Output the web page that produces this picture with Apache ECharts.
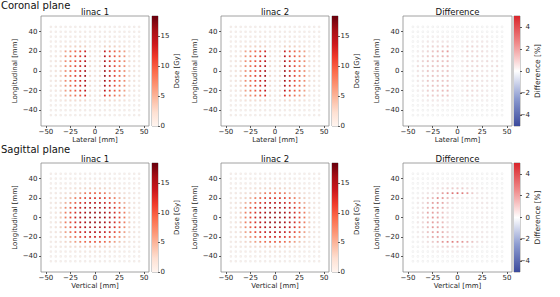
<!DOCTYPE html>
<html><head><meta charset="utf-8">
<script src="https://cdn.jsdelivr.net/npm/echarts@6/dist/echarts.min.js"></script>
<style>html,body{margin:0;padding:0;background:#fff}#c{width:560px;height:297px}</style>
</head><body><div id="c"></div>
<script>
// grid coordinates (mm)
const xCoords = [-45,-40,-35,-30,-25,-20,-15,-10,-5,0,5,10,15,20,25,30,35,40,45];
const yCoords = [45,40,35,30,25,20,15,10,5,0,-5,-10,-15,-20,-25,-30,-35,-40,-45];
const xTicks = [-50,-25,0,25,50];
const yTicks = [-40,-20,0,20,40];
const doseTicks = [0,5,10,15];
const diffTicks = [-4,-2,0,2,4];
const planeLabels = ['Coronal plane','Sagittal plane'];
const panelTitles = ['linac 1','linac 2','Difference'];
const xNames = ['Lateral [mm]','Vertical [mm]'];
const yName = 'Longitudinal [mm]';
const cbNames = ['Dose [Gy]','Difference [%]'];

const Z = [0,0,0,0,0,0,0,0,0,0,0,0,0,0,0,0,0,0,0];
// Coronal plane, linac 1 dose [Gy]
const coronalLinac1 = [
 Z,
 [0,0,0,0.2,0.2,0.2,0.2,0.2,0.1,0,0.1,0.2,0.2,0.2,0.2,0.2,0,0,0],
 [0,0,0.2,0.4,0.4,0.5,0.5,0.4,0.2,0.1,0.2,0.4,0.5,0.5,0.4,0.4,0.2,0,0],
 [0,0.2,0.4,0.8,1,1.2,1.2,1,0.4,0.2,0.4,1,1.2,1.2,1,0.8,0.4,0.2,0],
 [0,0.3,0.8,2,2.5,3,3.2,3,0.8,0.4,0.8,3,3.2,3,2.5,2,0.8,0.3,0],
 [0,0.5,1.5,6,8,9.5,11,13,1.5,0.6,1.5,13.5,11,9.5,8,6,1.5,0.5,0],
 [0.2,0.8,2,6.5,8.5,10,12,14,1.8,0.7,1.8,14.5,12,10,8.5,6.5,2,0.8,0.2],
 [0.2,1,2.5,7,9,10.5,12.5,14.5,2,0.8,2,15,12.5,10.5,9,7,2.5,1,0.2],
 [0.2,1,2.5,7,9,11,13,15,2,0.8,2,15.5,13,11,9,7,2.5,1,0.2],
 [0.2,1.2,2.8,7,9.5,11,13,15.5,2.2,0.9,2.2,16,13,11,9.5,7,2.8,1.2,0.2],
 [0.2,1.2,2.8,7.5,9.5,11.5,13.5,16,2.2,0.9,2.2,16.5,13.5,11.5,9.5,7.5,2.8,1.2,0.2],
 [0.2,1,2.5,7,9,11,13,15,2,0.8,2,15.5,13,11,9,7,2.5,1,0.2],
 [0.2,1,2.5,6.5,9,10.5,12.5,14.5,2,0.8,2,15,12.5,10.5,9,6.5,2.5,1,0.2],
 [0.2,0.8,2,6,8.5,10,12,14,1.8,0.7,1.8,14,12,10,8.5,6,2,0.8,0.2],
 [0,0.5,1.5,5,7,8.5,10,12,1.5,0.6,1.5,12,10,8.5,7,5,1.5,0.5,0],
 [0,0.3,0.6,1.5,2,2.2,2.5,2.5,0.6,0.3,0.6,2.5,2.5,2.2,2,1.5,0.6,0.3,0],
 [0,0,0.2,0.4,0.5,0.5,0.6,0.6,0.2,0.1,0.2,0.6,0.6,0.5,0.5,0.4,0.2,0,0],
 [0,0,0,0.2,0.2,0.2,0.2,0.2,0.1,0,0.1,0.2,0.2,0.2,0.2,0.2,0,0,0],
 Z
];
// Coronal plane, linac 2 dose [Gy]
const coronalLinac2 = [
 Z,
 [0,0,0,0.2,0.2,0.2,0.2,0.2,0.1,0,0.1,0.2,0.2,0.2,0.2,0.2,0,0,0],
 [0,0,0.2,0.4,0.4,0.5,0.5,0.4,0.2,0.1,0.2,0.4,0.5,0.5,0.4,0.4,0.2,0,0],
 [0,0.2,0.4,0.8,1,1.2,1.2,1,0.4,0.2,0.4,1,1.2,1.2,1,0.8,0.4,0.2,0],
 [0,0.3,0.8,2,2.5,3,3.1,2.9,0.8,0.4,0.8,3,3.2,3,2.5,2,0.8,0.3,0],
 [0,0.5,1.5,5.8,7.8,9.3,10.8,12.7,1.5,0.6,1.5,13.2,10.8,9.3,7.8,5.9,1.5,0.5,0],
 [0.2,0.8,2,6.4,8.3,9.8,11.8,13.8,1.8,0.7,1.8,14.3,11.9,9.9,8.4,6.4,2,0.8,0.2],
 [0.2,1,2.5,6.9,8.9,10.3,12.3,14.3,2,0.8,2,14.8,12.4,10.4,8.9,6.9,2.5,1,0.2],
 [0.2,1,2.5,6.9,8.9,10.9,12.8,14.8,2,0.8,2,15.4,12.9,10.9,8.9,6.9,2.5,1,0.2],
 [0.2,1.2,2.8,6.9,9.4,10.9,12.9,15.3,2.2,0.9,2.2,15.9,12.9,10.9,9.4,7,2.8,1.2,0.2],
 [0.2,1.2,2.8,7.4,9.4,11.4,13.3,15.8,2.2,0.9,2.2,16.4,13.4,11.4,9.4,7.4,2.8,1.2,0.2],
 [0.2,1,2.5,6.9,8.9,10.9,12.8,14.8,2,0.8,2,15.4,12.9,10.9,8.9,7,2.5,1,0.2],
 [0.2,1,2.5,6.4,8.9,10.4,12.3,14.3,2,0.8,2,14.9,12.4,10.4,8.9,6.5,2.5,1,0.2],
 [0.2,0.8,2,5.9,8.4,9.9,11.8,13.8,1.8,0.7,1.8,13.9,11.9,9.9,8.4,6,2,0.8,0.2],
 [0,0.5,1.5,4.9,6.9,8.4,9.9,11.8,1.5,0.6,1.5,11.9,9.9,8.4,6.9,5,1.5,0.5,0],
 [0,0.3,0.6,1.5,2,2.2,2.5,2.5,0.6,0.3,0.6,2.5,2.5,2.2,2,1.5,0.6,0.3,0],
 [0,0,0.2,0.4,0.5,0.5,0.6,0.6,0.2,0.1,0.2,0.6,0.6,0.5,0.5,0.4,0.2,0,0],
 [0,0,0,0.2,0.2,0.2,0.2,0.2,0.1,0,0.1,0.2,0.2,0.2,0.2,0.2,0,0,0],
 Z
];
// Coronal plane, difference [%]
const coronalDiff = [
 Z,
 Z,
 [0,0,0,0.2,0.2,0.2,0.2,0.2,0,0,0,0.2,0.2,0.2,0.2,0.2,0,0,0],
 [0,0,0.2,0.4,0.5,0.5,0.5,0.5,0.2,0,0.2,0.4,0.4,0.4,0.4,0.3,0.2,0,0],
 [0,0,0.3,0.6,0.8,0.8,1,1.2,0.3,0,0.3,0.8,0.8,0.6,0.5,0.4,0.2,0,0],
 [0,0.2,0.5,0.8,1.2,1.5,1.8,2.2,0.4,0,0.4,1,0.8,0.6,0.6,0.4,0.3,0.2,0],
 [0,0.2,0.6,1,1.4,1.2,1.5,1.6,0.4,0,0.4,0.8,0.6,0.8,0.5,0.4,0.4,0.2,0],
 [0,0.4,0.8,1.2,1,1.4,1.2,1.4,0.4,0,0.4,0.6,0.8,0.6,0.4,0.6,0.4,0.4,0],
 [0,0.6,0.8,1,1.2,1,1.4,1.2,0.3,0,0.3,0.8,0.6,0.8,0.6,0.4,0.5,0.6,0],
 [0,0.5,0.6,1.2,1,1.2,1,1.3,0.3,0,0.3,0.6,0.8,0.6,0.4,0.4,0.4,0.5,0],
 [0,0.4,0.6,1,1.2,1,1.2,1.1,0.3,0,0.3,0.7,0.6,0.7,0.5,0.4,0.4,0.4,0],
 [0,0.3,0.5,1.1,1,1.3,1.1,1.2,0.3,0,0.3,0.6,0.7,0.6,0.4,0.4,0.3,0.3,0],
 [0,0.2,0.5,1,1.2,1.1,1.3,1.4,0.3,0,0.3,0.7,0.6,0.6,0.5,0.3,0.3,0.2,0],
 [0,0.2,0.4,0.9,1.1,1.2,1.4,1.5,0.3,0,0.3,0.8,0.7,0.6,0.4,0.3,0.2,0.2,0],
 [0,0,0.3,0.8,1,1,1.2,1.2,0.3,0,0.3,0.6,0.6,0.4,0.4,0.3,0.2,0,0],
 [0,0,0.2,0.3,0.4,0.4,0.4,0.4,0.1,0,0.1,0.3,0.3,0.3,0.2,0.2,0,0,0],
 [0,0,0,0.1,0.2,0.2,0.2,0.2,0,0,0,0.1,0.1,0.1,0.1,0.1,0,0,0],
 Z,
 Z
];
// Sagittal plane, linac 1 dose [Gy]
const sagittalLinac1 = [
 Z,
 [0,0,0,0.1,0.2,0.2,0.3,0.3,0.3,0.3,0.3,0.3,0.3,0.2,0.2,0.1,0,0,0],
 [0,0,0.1,0.3,0.4,0.5,0.6,0.7,0.8,0.8,0.8,0.7,0.6,0.5,0.4,0.3,0.1,0,0],
 [0,0.2,0.4,0.8,1,1.5,2,2.5,3,3,3,2.5,2,1.5,1,0.8,0.4,0.2,0],
 [0,0.3,0.8,1.5,2.5,3.5,5,8,9,9.5,9,8,5,3.5,2.5,1.5,0.8,0.3,0],
 [0.1,0.5,1.5,3,5,8,10,11,12,12,12,11,10,8,5,3,1.5,0.5,0.1],
 [0.2,0.8,2,5,8,10,12,13,14,14,14,13,12,10,8,5,2,0.8,0.2],
 [0.2,1,3,7,10,12,13.5,14.5,15,15.5,15,14.5,13.5,12,10,7,3,1,0.2],
 [0.2,1,3.5,8,10.5,12.5,14,15,16,16,16,15,14,12.5,10.5,8,3.5,1,0.2],
 [0.2,1,3.5,8,11,13,14.5,15.5,16,16.5,16,15.5,14.5,13,11,8,3.5,1,0.2],
 [0.2,1,3.5,8,10.5,12.5,14,15,16,16,16,15,14,12.5,10.5,8,3.5,1,0.2],
 [0.2,1,3,7,10,12,13.5,14.5,15,15.5,15,14.5,13.5,12,10,7,3,1,0.2],
 [0.2,0.8,2.5,6,9,11,12.5,13.5,14,14.5,14,13.5,12.5,11,9,6,2.5,0.8,0.2],
 [0.1,0.6,2,4.5,7,9,11,12,12.5,13,12.5,12,11,9,7,4.5,2,0.6,0.1],
 [0,0.4,1,2.5,4,6,8,9,10,10,10,9,8,6,4,2.5,1,0.4,0],
 [0,0.2,0.5,1,1.5,2,2.5,3,3.5,3.5,3.5,3,2.5,2,1.5,1,0.5,0.2,0],
 [0,0,0.1,0.3,0.4,0.5,0.6,0.7,0.8,0.8,0.8,0.7,0.6,0.5,0.4,0.3,0.1,0,0],
 [0,0,0,0.1,0.2,0.2,0.3,0.3,0.3,0.3,0.3,0.3,0.3,0.2,0.2,0.1,0,0,0],
 Z
];
// Sagittal plane, linac 2 dose [Gy]
const sagittalLinac2 = [
 Z,
 [0,0,0,0.1,0.2,0.2,0.3,0.3,0.3,0.3,0.3,0.3,0.3,0.2,0.2,0.1,0,0,0],
 [0,0,0.1,0.3,0.4,0.5,0.6,0.7,0.8,0.8,0.8,0.7,0.6,0.5,0.4,0.3,0.1,0,0],
 [0,0.2,0.4,0.8,1,1.5,2,2.4,2.9,2.9,2.9,2.4,2,1.5,1,0.8,0.4,0.2,0],
 [0,0.3,0.8,1.5,2.4,3.4,4.9,7.8,8.7,9.2,8.8,7.8,5,3.5,2.5,1.5,0.8,0.3,0],
 [0.1,0.5,1.5,2.9,4.9,7.8,9.8,10.9,11.9,11.9,11.9,11,10,8,5,3,1.5,0.5,0.1],
 [0.2,0.8,2,4.9,7.8,9.8,11.8,12.9,13.9,13.9,14,13,12,10,8,5,2,0.8,0.2],
 [0.2,1,2.9,6.9,9.8,11.8,13.3,14.4,14.9,15.4,15,14.5,13.5,12,10,7,3,1,0.2],
 [0.2,1,3.4,7.8,10.3,12.3,13.8,14.9,15.9,15.9,16,15,14,12.5,10.5,8,3.5,1,0.2],
 [0.2,1,3.4,7.9,10.8,12.8,14.3,15.4,15.9,16.4,16,15.5,14.5,13,11,8,3.5,1,0.2],
 [0.2,1,3.4,7.8,10.3,12.3,13.8,14.9,15.9,15.9,16,15,14,12.5,10.5,8,3.5,1,0.2],
 [0.2,1,2.9,6.9,9.8,11.8,13.3,14.4,14.9,15.4,15,14.5,13.5,12,10,7,3,1,0.2],
 [0.2,0.8,2.4,5.9,8.8,10.8,12.3,13.4,13.9,14.4,14,13.5,12.5,11,9,6,2.5,0.8,0.2],
 [0.1,0.6,2,4.4,6.9,8.8,10.8,11.8,12.3,12.8,12.4,11.9,11,9,7,4.5,2,0.6,0.1],
 [0,0.4,1,2.4,3.9,5.9,7.8,8.8,9.7,9.8,9.8,8.8,7.9,6,4,2.5,1,0.4,0],
 [0,0.2,0.5,1,1.5,2,2.4,2.9,3.4,3.4,3.4,2.9,2.5,2,1.5,1,0.5,0.2,0],
 [0,0,0.1,0.3,0.4,0.5,0.6,0.7,0.8,0.8,0.8,0.7,0.6,0.5,0.4,0.3,0.1,0,0],
 [0,0,0,0.1,0.2,0.2,0.3,0.3,0.3,0.3,0.3,0.3,0.3,0.2,0.2,0.1,0,0,0],
 Z
];
// Sagittal plane, difference [%]
const sagittalDiff = [
 Z,
 Z,
 [0,0,0,0,0.1,0.2,0.2,0.3,0.3,0.3,0.3,0.2,0.2,0.1,0,0,0,0,0],
 [0,0,0,0.2,0.2,0.4,0.6,0.8,1,1,1,0.6,0.4,0.2,0.2,0,0,0,0],
 [0,0,0.2,0.4,0.6,1,2,2.5,3,3.2,2.8,2.2,1,0.4,0.2,0.2,0,0,0],
 [0,0.2,0.4,1,1.5,2.5,2.2,1.5,1,0.5,0.3,0.2,0.2,0.4,0.3,0.2,0.2,0,0],
 [0,0.2,0.5,1.2,2,2.2,1.8,1,0.5,0.2,0.1,0,0.2,0.3,0.4,0.3,0.2,0,0],
 [0,0.2,0.6,1.5,2.2,2,1.5,0.8,0.4,0.2,0,0.1,0.2,0.3,0.2,0.3,0.2,0,0],
 [0,0.3,0.8,1.8,2,1.8,1.2,0.6,0.3,0.1,0,0.1,0.2,0.2,0.3,0.2,0.2,0,0],
 [0,0.3,0.8,1.6,2.2,2,1.3,0.7,0.3,0,0,0,0.1,0.2,0.2,0.2,0.2,0,0],
 [0,0.3,0.7,1.5,2,1.8,1.4,0.6,0.3,0.1,0,0.1,0.2,0.3,0.2,0.2,0.2,0,0],
 [0,0.2,0.6,1.4,2.1,2,1.5,0.8,0.4,0.2,0.1,0.1,0.2,0.2,0.3,0.2,0.2,0,0],
 [0,0.2,0.5,1.2,1.9,2.2,1.6,1,0.5,0.3,0.2,0.2,0.2,0.3,0.3,0.2,0.2,0,0],
 [0,0.2,0.4,1,1.8,2,1.6,1.2,0.8,0.4,0.4,0.3,0.3,0.3,0.3,0.2,0.2,0,0],
 [0,0,0.2,0.5,1,1.5,2.2,2.5,2.8,2.5,2.2,1.8,1.2,0.6,0.4,0.2,0,0,0],
 [0,0,0,0.2,0.3,0.5,0.8,1,1,1,0.8,0.6,0.4,0.2,0,0,0,0,0],
 [0,0,0,0,0.1,0.2,0.2,0.3,0.3,0.3,0.2,0.2,0.1,0,0,0,0,0,0],
 Z,
 Z
];
const doseRange = [0, 18.4];
const diffRange = [-5, 5];

const FONT = 'DejaVu Sans';
const TXT = '#262626';
const redsStops = ['#fff5f0','#fee0d2','#fcbba1','#fc9272','#fb6a4a','#ef3b2c','#cb181d','#a50f15','#67000d'];
const diffStops = ['#3b4a9c','#8c9bd0','#ffffff','#f08c8c','#d9252b'];
const fmt = v => String(v).replace('-', '\u2212');

const panels = [
 {m: coronalLinac1, t: panelTitles[0], xn: xNames[0], dose: true,  l: 41,  tp: 16,  w: 108, h: 110, cb: 152},
 {m: coronalLinac2, t: panelTitles[1], xn: xNames[0], dose: true,  l: 221, tp: 16,  w: 108, h: 110, cb: 332},
 {m: coronalDiff,   t: panelTitles[2], xn: xNames[0], dose: false, l: 403, tp: 16,  w: 109, h: 110, cb: 514},
 {m: sagittalLinac1,t: panelTitles[0], xn: xNames[1], dose: true,  l: 41,  tp: 163, w: 108, h: 109, cb: 152},
 {m: sagittalLinac2,t: panelTitles[1], xn: xNames[1], dose: true,  l: 221, tp: 163, w: 108, h: 109, cb: 332},
 {m: sagittalDiff,  t: panelTitles[2], xn: xNames[1], dose: false, l: 403, tp: 163, w: 109, h: 109, cb: 514}
];

const grid = [], xAxis = [], yAxis = [], series = [], visualMap = [];
const title = [
 {text: planeLabels[0], left: 1, top: 0, padding: 0, textStyle: {fontFamily: FONT, fontSize: 10, fontWeight: 'normal', color: '#111'}},
 {text: planeLabels[1], left: 1, top: 144, padding: 0, textStyle: {fontFamily: FONT, fontSize: 10, fontWeight: 'normal', color: '#111'}}
];
const lbl = {fontFamily: FONT, fontSize: 7, color: TXT};

panels.forEach(p => {
  const g = grid.length;
  grid.push({left: p.l, top: p.tp, width: p.w, height: p.h, show: true, borderColor: '#8a8a8a', borderWidth: 0.8, containLabel: false});
  grid.push({left: p.cb, top: p.tp, width: 6, height: p.h, show: true, borderColor: '#8a8a8a', borderWidth: 0.8, containLabel: false});
  const xi = xAxis.length;
  xAxis.push({type: 'value', gridIndex: g, min: -55, max: 55,
    axisLine: {show: false, onZero: false}, splitLine: {show: false},
    axisTick: {show: true, length: 2, customValues: xTicks, lineStyle: {color: '#333', width: 0.8}},
    axisLabel: Object.assign({customValues: xTicks, margin: 2.5, formatter: fmt}, lbl),
    name: p.xn, nameLocation: 'middle', nameGap: 8, nameTextStyle: lbl});
  xAxis.push({type: 'category', gridIndex: g + 1, data: ['c'], show: false});
  const yi = yAxis.length;
  yAxis.push({type: 'value', gridIndex: g, min: -56, max: 56,
    axisLine: {show: false, onZero: false}, splitLine: {show: false},
    axisTick: {show: true, length: 2, customValues: yTicks, lineStyle: {color: '#333', width: 0.8}},
    axisLabel: Object.assign({customValues: yTicks, margin: 3.5, formatter: fmt}, lbl),
    name: yName, nameLocation: 'middle', nameGap: 19, nameRotate: 90, nameTextStyle: lbl});
  const cbT = p.dose ? doseTicks : diffTicks;
  const rng = p.dose ? doseRange : diffRange;
  yAxis.push({type: 'value', gridIndex: g + 1, position: 'right', min: rng[0], max: rng[1],
    axisLine: {show: false, onZero: false}, splitLine: {show: false},
    axisTick: {show: true, length: 2, customValues: cbT, lineStyle: {color: '#333', width: 0.8}},
    axisLabel: Object.assign({customValues: cbT, margin: p.dose ? 2.5 : 10, align: p.dose ? 'left' : 'right', formatter: fmt}, lbl),
    name: p.dose ? cbNames[0] : cbNames[1], nameLocation: 'middle', nameGap: 13, nameRotate: 90,
    nameTextStyle: Object.assign({}, lbl, {fontSize: p.dose ? 7 : 7.5})});
  yAxis.push({type: 'value', gridIndex: g + 1, min: 0, max: 1, show: false});
  const stops = p.dose ? redsStops : diffStops;
  const data = [];
  p.m.forEach((row, r) => row.forEach((v, c) => data.push([xCoords[c], yCoords[r], v])));
  const si = series.length;
  series.push({type: 'scatter', xAxisIndex: xi, yAxisIndex: yi, data: data, symbol: 'rect', symbolSize: 1.7,
    itemStyle: {borderColor: 'rgba(30,30,30,0.12)', borderWidth: 0.4, opacity: 1}, silent: true, animation: false});
  visualMap.push({show: false, seriesIndex: si, dimension: 2, min: rng[0], max: rng[1], inRange: {color: stops}});
  series.push({type: 'bar', xAxisIndex: xi + 1, yAxisIndex: yi + 2, data: [1], barWidth: '100%', silent: true, animation: false,
    itemStyle: {color: new echarts.graphic.LinearGradient(0, 1, 0, 0,
      stops.map((s, k) => ({offset: k / (stops.length - 1), color: s})))}});
  title.push({text: p.t, left: p.l + p.w / 2, top: p.tp - 9, padding: 0, textAlign: 'center',
    textStyle: {fontFamily: FONT, fontSize: 8.5, fontWeight: 'normal', color: '#111'}});
});

const chart = echarts.init(document.getElementById('c'), null, {renderer: 'svg'});
chart.setOption({backgroundColor: '#fff', animation: false, title, grid, xAxis, yAxis, series, visualMap});
</script>
</body></html>
